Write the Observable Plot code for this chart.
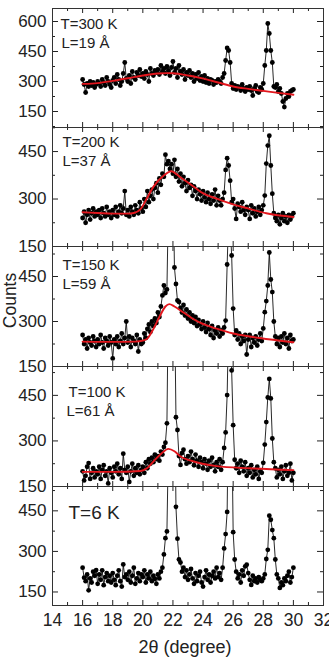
<!DOCTYPE html>
<html><head><meta charset="utf-8">
<script src="https://cdn.jsdelivr.net/npm/d3@7"></script>
<script src="https://cdn.jsdelivr.net/npm/@observablehq/plot@0.6"></script>
<style>
body{margin:0;background:#fff;}
#chart{width:329px;}
#chart svg{display:block;}
</style></head><body><div id="chart"></div><script>
// ---------- data ----------
const twoTheta = [
16,16.1,16.2,16.3,16.4,16.5,16.6,16.7,16.8,16.9,
17,17.1,17.2,17.3,17.4,17.5,17.6,17.7,17.8,17.9,
18,18.1,18.2,18.3,18.4,18.5,18.6,18.7,18.8,18.9,
19,19.1,19.2,19.3,19.4,19.5,19.6,19.7,19.8,19.9,
20,20.1,20.2,20.3,20.4,20.5,20.6,20.7,20.8,20.9,
21,21.1,21.2,21.3,21.4,21.5,21.6,21.7,21.8,21.9,
22,22.1,22.2,22.3,22.4,22.5,22.6,22.7,22.8,22.9,
23,23.1,23.2,23.3,23.4,23.5,23.6,23.7,23.8,23.9,
24,24.1,24.2,24.3,24.4,24.5,24.6,24.7,24.8,24.9,
25,25.1,25.2,25.3,25.4,25.5,25.6,25.7,25.8,25.9,
26,26.1,26.2,26.3,26.4,26.5,26.6,26.7,26.8,26.9,
27,27.1,27.2,27.3,27.4,27.5,27.6,27.7,27.8,27.9,
28,28.1,28.2,28.3,28.4,28.5,28.6,28.7,28.8,28.9,
29,29.1,29.2,29.3,29.4,29.5,29.6,29.7,29.8,29.9,
30];

const counts300 = [
310,285,245,290,275,300,280,295,270,285,
300,290,275,310,295,280,320,300,285,270,
305,320,290,335,310,280,300,340,395,315,
300,330,290,350,320,310,345,330,360,325,
340,315,350,335,300,365,340,330,355,345,
360,335,380,350,365,340,375,355,330,370,
400,345,365,320,380,350,335,360,310,345,
330,355,320,340,300,335,315,345,305,325,
300,330,295,315,290,310,305,285,300,295,
310,300,290,320,340,405,468,455,395,290,
265,280,260,275,270,255,285,265,250,270,
260,275,255,230,265,280,250,245,270,260,
290,380,455,590,540,455,395,275,270,285,
250,265,240,200,172,215,240,225,250,255,
260];

const counts200 = [
240,260,225,250,265,235,255,270,245,260,
250,265,240,270,255,245,275,250,260,240,
265,250,275,245,260,280,255,270,325,250,
265,245,275,260,250,280,265,255,290,270,
260,300,275,325,290,310,330,300,335,350,
320,365,345,380,370,440,410,420,395,410,
380,424,370,395,355,380,340,370,350,325,
360,335,345,310,340,325,300,330,315,295,
325,305,290,320,300,285,315,295,330,280,
310,295,280,300,320,392,429,406,358,290,
300,270,237,285,275,260,290,265,250,275,
265,237,280,255,270,245,260,275,250,265,
280,311,412,469,500,406,317,255,240,230,
250,220,240,255,230,245,225,250,235,245,
255];

const counts150 = [
255,225,240,210,245,230,220,250,235,215,
240,225,255,230,210,245,235,220,250,230,
177,240,225,250,215,235,260,225,245,300,
230,250,215,245,235,225,255,200,240,225,
230,260,245,275,290,265,300,285,310,295,
330,315,350,387,420,395,407,700,1000,1000,
800,480,425,370,365,345,330,355,320,340,
310,330,300,320,295,315,285,305,290,275,
300,280,265,295,275,255,285,245,270,260,
280,250,270,260,280,303,490,650,620,520,
343,255,270,240,260,225,250,235,255,190,
240,255,215,245,230,250,220,240,260,235,
277,331,368,420,530,440,398,300,250,225,
245,215,250,230,260,225,245,210,255,235,
240];

const counts100 = [
200,170,185,215,227,175,195,210,180,200,
190,215,175,205,220,185,200,160,210,195,
180,215,200,225,190,210,175,258,205,195,
215,165,200,225,185,210,195,220,190,205,
215,195,230,210,240,225,245,230,255,240,
250,235,265,255,280,294,358,800,1000,1000,
900,800,378,336,250,221,260,271,240,225,
250,230,265,240,220,255,235,215,245,230,
210,240,225,205,235,215,245,220,200,230,
215,240,205,230,277,328,451,700,650,532,
352,238,210,225,195,235,215,200,230,185,
210,195,220,180,205,190,215,175,200,195,
228,288,362,443,504,440,308,230,210,180,
205,190,215,175,200,220,185,195,225,170,
195];

const counts6 = [
240,203,190,215,156,200,185,225,210,231,
180,215,195,230,175,205,220,190,210,185,
220,195,175,210,230,190,170,252,205,215,
195,225,185,210,240,180,200,220,190,215,
205,230,185,215,200,225,190,210,199,180,
215,200,225,240,289,349,374,700,1000,1000,
1000,1000,465,347,270,259,225,240,205,230,
195,215,235,200,180,220,190,210,225,185,
170,205,230,195,215,185,210,225,200,240,
205,220,195,240,311,364,446,900,1000,800,
371,270,225,200,215,185,230,210,245,251,
220,195,176,210,190,200,185,205,195,190,
200,215,272,306,432,417,379,349,270,215,
200,165,185,175,200,190,210,225,185,205,
240];

// fitted curves (red)
const fit300X = [16,17,18,19,20,21,21.6,22,23,23.8,25,26,27,28,29,30];
const fit300Y = [288,292,303,316,330,340,342,341,330,318,295,275,263,253,243,234];
const fit200X = [16,17,18,19,19.4,19.85,20.28,20.72,21.39,21.88,22.49,23.27,23.8,24.9,26,27.07,28.2,30];
const fit200Y = [258,256,254,254,256,268,303,340,374,388,369,343,324,301,283,269,255,243];
const fit150X = [16,18,19.5,20,20.28,20.7,21.15,21.5,21.76,22.1,22.7,23.3,23.8,24.9,26,27.1,28.5,30];
const fit150Y = [233,232,233,236,242,275,320,350,358,350,330,310,296,276,260,250,240,231];
const fit100X = [16,18,19.85,20.28,20.7,21.2,21.7,22.1,22.5,23.2,24.9,27.1,30];
const fit100Y = [198,198,201,210,232,257,274,266,249,235,217,210,204];

const tempLabels = ["T=300 K","T=200 K","T=150 K","T=100 K","T=6 K"];
const sizeLabels = ["L=19 Å","L=37 Å","L=59 Å","L=61 Å",null];
const yDomains = [[70,665],[150,526],[150,550],[150,545],[100,540]];
const yMajor = [[150,300,450,600],[150,300,450],[150,300,450],[150,300,450],[150,300,450]];
const yMinor = [[75,225,375,525],[225,375,525],[225,375,525],[225,375,525],[225,375,525]];
const xMajor = [14,16,18,20,22,24,26,28,30,32];
const xMinor = [15,17,19,21,23,25,27,29,31];
const xDomain = [14,32];
const yTitle = "Counts";
const xTitle = "2θ (degree)";

const seriesList = [counts300, counts200, counts150, counts100, counts6];
const fitXList = [fit300X, fit200X, fit150X, fit100X, null];
const fitYList = [fit300Y, fit200Y, fit150Y, fit100Y, null];

// ---------- layout ----------
const W = 329, ML = 52, MR = 6;
const PW = W - ML - MR;
const FONT = "'Liberation Sans', Arial, sans-serif";
const INK = "#222";
const layout = [
  {top: 8, h: 119, bottom: 0, tDx: 8, tDy: 16, lDx: 9, lDy: 35, tSize: 15},
  {top: 0, h: 119, bottom: 0, tDx: 10, tDy: 15, lDx: 10, lDy: 34, tSize: 15},
  {top: 0, h: 120, bottom: 0, tDx: 10, tDy: 19, lDx: 10, lDy: 38, tSize: 15},
  {top: 0, h: 120, bottom: 0, tDx: 16, tDy: 26, lDx: 14, lDy: 45, tSize: 15},
  {top: 0, h: 119, bottom: 52, tDx: 16, tDy: 26, lDx: 0, lDy: 0, tSize: 19}
];

const root = document.getElementById("chart");

seriesList.forEach((counts, i) => {
  const L = layout[i];
  const h = L.h;
  const pts = twoTheta.map((t, j) => ({t, c: counts[j]}));
  const marks = [];
  marks.push(Plot.line(pts, {x: "t", y: "c", stroke: "#111", strokeWidth: 0.9, clip: true}));
  marks.push(Plot.dot(pts, {x: "t", y: "c", r: 2.4, fill: "#000", stroke: "none", clip: true}));
  if (fitXList[i]) {
    const fit = fitXList[i].map((t, j) => ({t, c: fitYList[i][j]}));
    marks.push(Plot.line(fit, {x: "t", y: "c", stroke: "#e3161d", strokeWidth: 1.9, curve: "monotone-x"}));
  }
  // ticks (inward, all four sides)
  marks.push(Plot.tickY(yMajor[i], {y: d => d, insetRight: PW - 6, stroke: INK}));
  marks.push(Plot.tickY(yMajor[i], {y: d => d, insetLeft: PW - 6, stroke: INK}));
  marks.push(Plot.tickY(yMinor[i], {y: d => d, insetRight: PW - 3, stroke: INK}));
  marks.push(Plot.tickY(yMinor[i], {y: d => d, insetLeft: PW - 3, stroke: INK}));
  marks.push(Plot.tickX(xMajor, {x: d => d, insetBottom: h - 5, stroke: INK}));
  marks.push(Plot.tickX(xMajor, {x: d => d, insetTop: h - 5, stroke: INK}));
  marks.push(Plot.tickX(xMinor, {x: d => d, insetBottom: h - 3, stroke: INK}));
  marks.push(Plot.tickX(xMinor, {x: d => d, insetTop: h - 3, stroke: INK}));
  marks.push(Plot.frame({stroke: "#333", strokeWidth: 1}));
  // y tick labels
  marks.push(Plot.text(yMajor[i], {y: d => d, text: d => String(d), frameAnchor: "left", dx: -6,
    textAnchor: "end", lineAnchor: "middle", fontSize: 17, fill: INK, fontFamily: FONT}));
  // annotations
  marks.push(Plot.text([tempLabels[i]], {text: d => d, frameAnchor: "top-left", dx: L.tDx, dy: L.tDy,
    textAnchor: "start", lineAnchor: "middle", fontSize: L.tSize, fill: INK, fontFamily: FONT}));
  if (sizeLabels[i]) {
    marks.push(Plot.text([sizeLabels[i]], {text: d => d, frameAnchor: "top-left", dx: L.lDx, dy: L.lDy,
      textAnchor: "start", lineAnchor: "middle", fontSize: 15, fill: INK, fontFamily: FONT}));
  }
  if (i === 2) {
    marks.push(Plot.text([yTitle], {text: d => d, frameAnchor: "left", dx: -42, dy: -6, rotate: -90,
      textAnchor: "middle", lineAnchor: "middle", fontSize: 17.5, fill: INK, fontFamily: FONT}));
  }
  if (i === 4) {
    marks.push(Plot.text(xMajor, {x: d => d, text: d => String(d), frameAnchor: "bottom", dy: 15,
      textAnchor: "middle", lineAnchor: "middle", fontSize: 17.5, fill: INK, fontFamily: FONT}));
    marks.push(Plot.text([xTitle], {text: d => d, frameAnchor: "bottom", dx: -3, dy: 42,
      textAnchor: "middle", lineAnchor: "middle", fontSize: 18, fill: INK, fontFamily: FONT}));
  }
  const svg = Plot.plot({
    width: W,
    height: L.top + h + L.bottom,
    marginLeft: ML, marginRight: MR, marginTop: L.top, marginBottom: L.bottom,
    x: {domain: xDomain, axis: null},
    y: {domain: yDomains[i], axis: null},
    style: "overflow: visible; background: transparent; font-family: 'Liberation Sans', Arial, sans-serif;",
    marks
  });
  root.appendChild(svg);
});
</script></body></html>
